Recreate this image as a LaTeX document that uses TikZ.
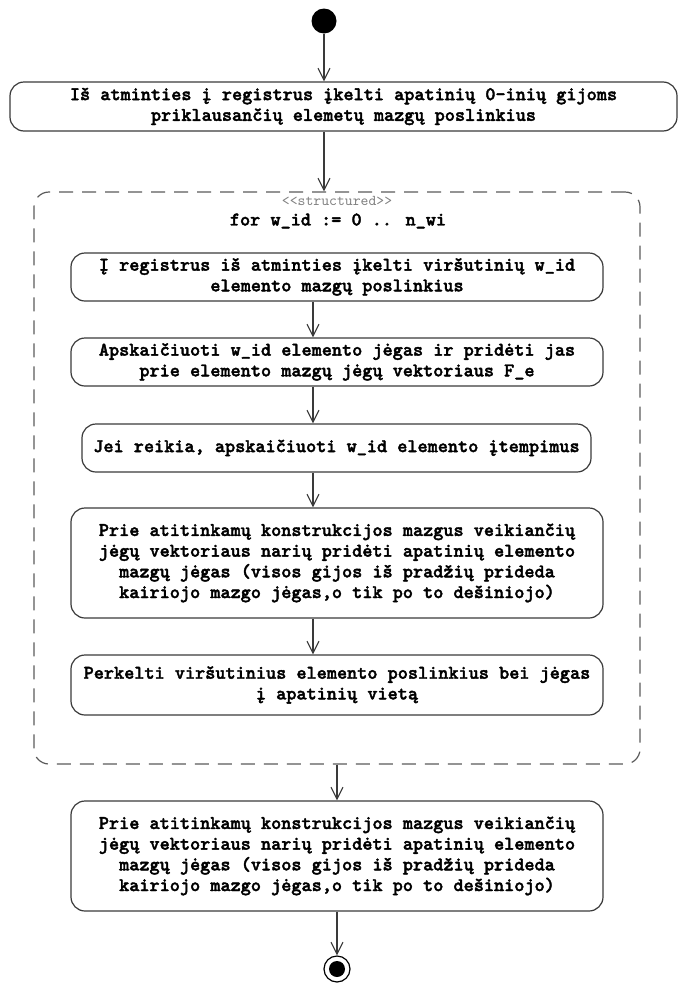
\documentclass[tikz,border=0pt]{standalone}
\usepackage{fontspec}
\newfontfamily\actfont{lmmonolt10-bold}[Extension=.otf, FakeBold=2]
\newfontfamily\stereofont{lmmono10-regular}[Extension=.otf]
\usetikzlibrary{arrows.meta}
\definecolor{linec}{HTML}{3A3A3A}
\definecolor{dashc}{HTML}{5A5A5A}
\definecolor{stereoc}{HTML}{808080}
\begin{document}
\begin{tikzpicture}[x=1pt,y=-1pt,
  act/.style={draw=linec, line width=1.2pt, rounded corners=14pt, align=center,
    inner sep=0pt, font=\actfont\fontsize{19.3}{20.7}\selectfont},
  region/.style={draw=dashc, line width=1.2pt, rounded corners=15pt,
    dash pattern=on 14pt off 9pt, inner sep=0pt},
  flow/.style={draw=linec, line width=1.1pt, -{Straight Barb[length=12pt,width=12pt]}},
  lbl/.style={inner sep=0pt, font=\actfont\fontsize{19.3}{20.7}\selectfont},
  stereo/.style={inner sep=0pt, text=stereoc, font=\stereofont\fontsize{15}{16}\selectfont},
  initial/.style={circle, fill=black, minimum size=25pt, inner sep=0pt},
  final/.style={circle, draw=black, line width=1.2pt, fill=white, minimum size=26pt, inner sep=0pt},
  finaldot/.style={circle, fill=black, minimum size=16pt, inner sep=0pt}]
\useasboundingbox (0,0) rectangle (678,983);

% columns used by the control-flow arrows
\coordinate (colA) at (324,0);
\coordinate (colB) at (313,0);
\coordinate (colC) at (337,0);

% initial node
\node[initial] (start) at (324,21) {};

% first action
\node[act, minimum width=667pt, minimum height=49pt] (b1) at (343.5,106.5)
  {Iš atminties į registrus įkelti apatinių 0-inių gijoms\\priklausančių elemetų mazgų poslinkius};

% structured loop region
\node[region, minimum width=606pt, minimum height=572pt] (loop) at (337,478) {};
\node[stereo] (st) at (337,201) {\textless\textless structured\textgreater\textgreater};
\node[lbl] (loophead) at (338,221) {for w\_id := 0 .. n\_wi};

% actions inside the loop
\node[act, minimum width=532pt, minimum height=48pt] (b2) at (337,277)
  {Į registrus iš atminties įkelti viršutinių w\_id\\elemento mazgų poslinkius};
\node[act, minimum width=532pt, minimum height=48pt] (b3) at (337,362)
  {Apskaičiuoti w\_id elemento jėgas ir pridėti jas\\prie elemento mazgų jėgų vektoriaus F\_e};
\node[act, minimum width=509pt, minimum height=48pt] (b4) at (336.5,448)
  {Jei reikia, apskaičiuoti w\_id elemento įtempimus};
\node[act, minimum width=532pt, minimum height=110pt] (b5) at (337,563)
  {Prie atitinkamų konstrukcijos mazgus veikiančių\\jėgų vektoriaus narių pridėti apatinių elemento\\mazgų jėgas (visos gijos iš pradžių prideda\\kairiojo mazgo jėgas,o tik po to dešiniojo)};
\node[act, minimum width=532pt, minimum height=60pt] (b6) at (337,685)
  {Perkelti viršutinius elemento poslinkius bei jėgas\\į apatinių vietą};

% action after the loop
\node[act, minimum width=532pt, minimum height=110pt] (b7) at (337,856)
  {Prie atitinkamų konstrukcijos mazgus veikiančių\\jėgų vektoriaus narių pridėti apatinių elemento\\mazgų jėgas (visos gijos iš pradžių prideda\\kairiojo mazgo jėgas,o tik po to dešiniojo)};

% final node
\node[final] (stop) at (337,969) {};
\node[finaldot] (stopdot) at (stop) {};

% control flow
\draw[flow] (start) -- (b1.north -| colA);
\draw[flow] (b1.south -| colA) -- (loop.north -| colA);
\draw[flow] (b2.south -| colB) -- (b3.north -| colB);
\draw[flow] (b3.south -| colB) -- (b4.north -| colB);
\draw[flow] (b4.south -| colB) -- (b5.north -| colB);
\draw[flow] (b5.south -| colB) -- (b6.north -| colB);
\draw[flow] (loop.south -| colC) -- (b7.north -| colC);
\draw[flow] (b7.south -| colC) -- (stop.north);
\end{tikzpicture}
\end{document}
